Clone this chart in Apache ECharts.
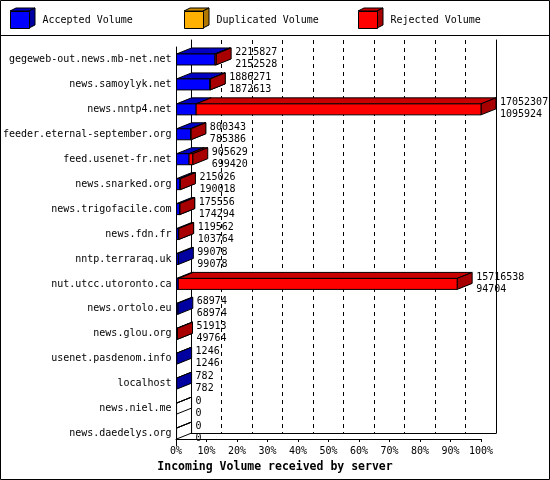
<!DOCTYPE html>
<html>
<head>
<meta charset="utf-8">
<style>
  html, body { margin: 0; padding: 0; background: #fff; }
  #chart { width: 550px; height: 480px; }
</style>
<script src="https://cdn.jsdelivr.net/npm/echarts@6/dist/echarts.min.js"></script>
</head>
<body>
<div id="chart"></div>
<script>
const hosts = [
  'gegeweb-out.news.mb-net.net', 'news.samoylyk.net', 'news.nntp4.net',
  'feeder.eternal-september.org', 'feed.usenet-fr.net', 'news.snarked.org',
  'news.trigofacile.com', 'news.fdn.fr', 'nntp.terraraq.uk', 'nut.utcc.utoronto.ca',
  'news.ortolo.eu', 'news.glou.org', 'usenet.pasdenom.info', 'localhost',
  'news.niel.me', 'news.daedelys.org'
];
const offered = [2215827, 1886271, 17052307, 800343, 905629, 215026, 175556, 119562,
  99078, 15716538, 68974, 51913, 1246, 782, 0, 0];
const accepted = [2152528, 1872613, 1095924, 785386, 699420, 190018, 174294, 103764,
  99078, 94704, 68974, 49764, 1246, 782, 0, 0];
const duplicated = [0, 0, 0, 0, 0, 0, 0, 0, 0, 0, 0, 0, 0, 0, 0, 0];
const percentTicks = [0, 10, 20, 30, 40, 50, 60, 70, 80, 90, 100];

const MONO = 'DejaVu Sans Mono';
const DX = 15, DY = -6, HALF = 5.5;
const maxVol = Math.max(...offered);
const pct = (v) => v / maxVol * 100;

const colors = {
  acc: { front: '#0000ff', top: '#0000c4', side: '#0000a0' },
  dup: { front: '#ffb000', top: '#d09000', side: '#b07800' },
  rej: { front: '#ff0000', top: '#c80000', side: '#a80000' },
};

// [start %, end %, host index]
const accData = hosts.map((h, i) => [0, pct(accepted[i]), i]);
const dupData = hosts.map((h, i) => [pct(accepted[i]), pct(accepted[i] + duplicated[i]), i]);
const rejData = hosts.map((h, i) => [pct(accepted[i] + duplicated[i]), pct(offered[i]), i]);
const labelData = hosts.map((h, i) => [pct(offered[i]), i, offered[i], accepted[i]]);

function boxRenderer(c, outlineEmpty) {
  return function (params, api) {
    const s = api.coord([api.value(0), api.value(2)]);
    const e = api.coord([api.value(1), api.value(2)]);
    const x0 = s[0], x1 = e[0], yc = s[1];
    const yt = yc - HALF, yb = yc + HALF;
    const empty = x1 - x0 <= 0.0001;
    if (empty && !outlineEmpty) return null;
    const fill = (col) => (empty ? 'none' : col);
    const stroke = { stroke: '#000', lineWidth: 1 };
    return {
      type: 'group',
      children: [
        {
          type: 'polygon',
          shape: { points: [[x0, yt], [x1, yt], [x1 + DX, yt + DY], [x0 + DX, yt + DY]] },
          style: Object.assign({ fill: fill(c.top) }, stroke),
        },
        {
          type: 'polygon',
          shape: { points: [[x1, yt], [x1 + DX, yt + DY], [x1 + DX, yb + DY], [x1, yb]] },
          style: Object.assign({ fill: fill(c.side) }, stroke),
        },
        empty ? null : {
          type: 'rect',
          shape: { x: x0, y: yt, width: x1 - x0, height: yb - yt },
          style: Object.assign({ fill: c.front }, stroke),
        },
      ].filter(Boolean),
    };
  };
}

function labelRenderer(params, api) {
  const p = api.coord([api.value(0), api.value(1)]);
  return {
    type: 'text',
    x: p[0] + DX + 4,
    y: p[1] - 1,
    style: {
      text: api.value(2) + '\n' + api.value(3),
      fill: '#000',
      font: '10px "' + MONO + '"',
      lineHeight: 12,
      verticalAlign: 'middle',
      align: 'left',
    },
  };
}

function legendCube(x, c) {
  return [
    { type: 'polygon', shape: { points: [[x, 11], [x + 19, 11], [x + 25, 8], [x + 6, 8]] },
      style: { fill: c.top, stroke: '#000', lineWidth: 1 } },
    { type: 'polygon', shape: { points: [[x + 19, 11], [x + 25, 8], [x + 25, 25], [x + 19, 28]] },
      style: { fill: c.side, stroke: '#000', lineWidth: 1 } },
  ];
}

function legendAt(left, name) {
  return {
    left: left, top: 11,
    padding: 0,
    data: [name],
    icon: 'rect',
    itemWidth: 19, itemHeight: 17,
    itemStyle: { borderColor: '#000', borderWidth: 1 },
    selectedMode: false,
    textStyle: { fontFamily: MONO, fontSize: 10, color: '#000', padding: [0, 0, 0, 8] },
  };
}

const chart = echarts.init(document.getElementById('chart'), null, { renderer: 'canvas' });

chart.setOption({
  animation: false,
  backgroundColor: '#fff',
  title: {
    text: 'Incoming Volume received by server',
    left: 'center', top: 456,
    textStyle: { fontFamily: MONO, fontSize: 11.5, fontWeight: 'bold', color: '#000' },
  },
  legend: [
    legendAt(10, 'Accepted Volume'),
    legendAt(184, 'Duplicated Volume'),
    legendAt(358, 'Rejected Volume'),
  ],
  graphic: [
    { type: 'rect', shape: { x: 0.5, y: 0.5, width: 549, height: 479 },
      style: { fill: 'none', stroke: '#000', lineWidth: 1 }, z: 100 },
    { type: 'line', shape: { x1: 0, y1: 35.5, x2: 550, y2: 35.5 },
      style: { stroke: '#000', lineWidth: 1 }, z: 100 },
    ...legendCube(10, colors.acc),
    ...legendCube(184, colors.dup),
    ...legendCube(358, colors.rej),
  ],
  grid: [
    { left: 191, right: 54, top: 40, bottom: 47 },   // back wall
    { left: 176, right: 69, top: 47, bottom: 34 },   // bars
    { left: 176, right: 69, top: 47, bottom: 41 },   // floor axis
  ],
  xAxis: [
    {
      gridIndex: 0, type: 'value', min: 0, max: 100, interval: 10,
      axisLine: { show: true, onZero: false, lineStyle: { color: '#000' } },
      axisTick: { show: false }, axisLabel: { show: false },
      splitLine: { show: true, lineStyle: { color: '#000', type: [4, 4], width: 1 } },
    },
    {
      gridIndex: 1, type: 'value', min: 0, max: 100,
      show: false,
    },
    {
      gridIndex: 2, type: 'value', min: 0, max: 100, interval: 10,
      axisLine: { show: true, onZero: false, lineStyle: { color: '#000' } },
      axisTick: { show: true, length: 3, lineStyle: { color: '#000' } },
      axisLabel: {
        formatter: (v) => (percentTicks.includes(v) ? v + '%' : ''),
        fontFamily: MONO, fontSize: 10, color: '#000', margin: 7,
      },
      splitLine: { show: false },
    },
  ],
  yAxis: [
    {
      gridIndex: 0, type: 'value', min: 0, max: 1, position: 'left',
      axisLine: { show: true, lineStyle: { color: '#000' } },
      axisTick: { show: false }, axisLabel: { show: false }, splitLine: { show: false },
    },
    {
      gridIndex: 0, type: 'value', min: 0, max: 1, position: 'right',
      axisLine: { show: true, lineStyle: { color: '#000' } },
      axisTick: { show: false }, axisLabel: { show: false }, splitLine: { show: false },
    },
    {
      gridIndex: 1, type: 'category', data: hosts, inverse: true,
      axisLine: { show: true, lineStyle: { color: '#000' } },
      axisTick: { show: false },
      axisLabel: { fontFamily: MONO, fontSize: 10, color: '#000', margin: 5 },
      splitLine: { show: false },
    },
    {
      gridIndex: 2, type: 'value', show: false,
    },
  ],
  series: [
    {
      name: 'Accepted Volume', type: 'custom', xAxisIndex: 1, yAxisIndex: 2,
      itemStyle: { color: colors.acc.front },
      renderItem: boxRenderer(colors.acc, true),
      encode: { x: [0, 1], y: 2 },
      data: accData,
    },
    {
      name: 'Duplicated Volume', type: 'custom', xAxisIndex: 1, yAxisIndex: 2,
      itemStyle: { color: colors.dup.front },
      renderItem: boxRenderer(colors.dup, false),
      encode: { x: [0, 1], y: 2 },
      data: dupData,
    },
    {
      name: 'Rejected Volume', type: 'custom', xAxisIndex: 1, yAxisIndex: 2,
      itemStyle: { color: colors.rej.front },
      renderItem: boxRenderer(colors.rej, false),
      encode: { x: [0, 1], y: 2 },
      data: rejData,
    },
    {
      name: 'labels', type: 'custom', xAxisIndex: 1, yAxisIndex: 2,
      renderItem: labelRenderer,
      encode: { x: 0, y: 1 },
      data: labelData,
      z: 5,
    },
  ],
});
</script>
</body>
</html>
